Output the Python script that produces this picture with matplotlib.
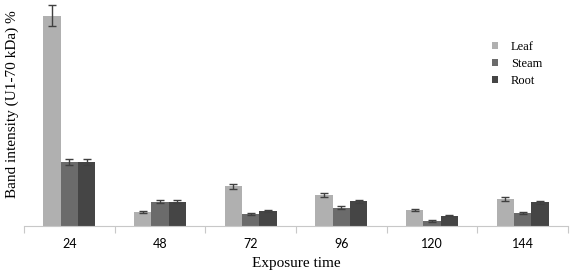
import numpy as np
import matplotlib.pyplot as plt

# exposure time groups
times = ['24', '48', '72', '96', '120', '144']
leaf = [210, 13.5, 39.5, 30.5, 15.5, 26.5]
steam = [64, 24, 12, 18, 4.5, 13]
root = [64, 24, 15, 24.5, 10, 23.5]
leaf_err = [10.5, 1.2, 2.5, 2.0, 1.2, 2.0]
steam_err = [3.0, 1.2, 1.0, 1.2, 0.8, 1.0]
root_err = [3.0, 1.2, 1.0, 1.5, 0.8, 1.5]

serif = 'Liberation Serif'

fig = plt.figure(figsize=(5.82, 2.76), dpi=100)
ax = fig.add_axes([24/582, 50.5/276, 544/582, 222.5/276])

x = np.arange(len(times))
w = 0.19
ekw = dict(ecolor='#404040', elinewidth=1, capsize=3, capthick=1)
ax.bar(x - w, leaf, w, yerr=leaf_err, color='#b0b0b0', label='Leaf', error_kw=ekw)
ax.bar(x, steam, w, yerr=steam_err, color='#6b6b6b', label='Steam', error_kw=ekw)
ax.bar(x + w, root, w, yerr=root_err, color='#454545', label='Root', error_kw=ekw)

ax.set_xlim(-0.5, len(times) - 0.5)
ax.set_ylim(0, 222.5)

for s in ['top', 'right', 'left']:
    ax.spines[s].set_visible(False)
ax.spines['bottom'].set_color('#c8c8c8')
ax.set_yticks([])

# boundary ticks and centred labels
ax.set_xticks(np.arange(len(times) + 1) - 0.5)
ax.set_xticklabels([])
ax.tick_params(axis='x', which='major', direction='out', length=5, color='#c8c8c8')
ax.set_xticks(x, minor=True)
ax.set_xticklabels(times, minor=True, fontsize=9, family='Lato')
ax.tick_params(axis='x', which='minor', length=0, pad=9)

ax.set_xlabel('Exposure time', family=serif, fontsize=11, labelpad=5)
fig.text(12.5/582, 1 - 104/276, 'Band intensity (U1-70 kDa) %', family=serif, fontsize=11,
         rotation=90, ha='center', va='center')

ax.legend(loc='upper left', bbox_to_anchor=(0.84, 0.88), frameon=False,
          prop={'family': serif, 'size': 9}, handlelength=0.5, handleheight=0.5,
          labelspacing=0.4, handletextpad=1.0)

fig.savefig('out.png', dpi=100)
